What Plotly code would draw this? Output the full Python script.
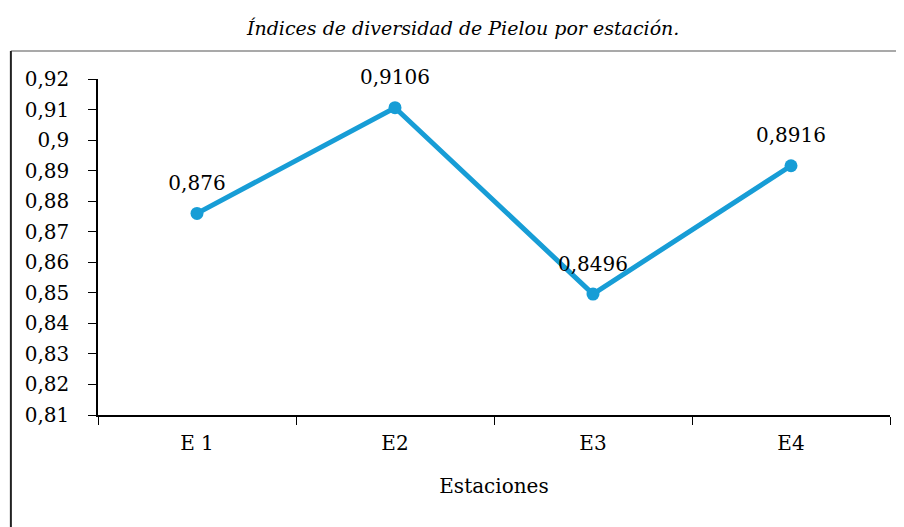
import plotly.graph_objects as go

STATIONS = ["E 1", "E2", "E3", "E4"]
PIELOU = [0.876, 0.9106, 0.8496, 0.8916]
LABELS = [str(v).replace(".", ",") for v in PIELOU]

FONT = "DejaVu Serif"
BLUE = "#179DD6"

fig = go.Figure()
fig.add_trace(go.Scatter(
    x=STATIONS, y=PIELOU, mode="lines+markers",
    line=dict(color=BLUE, width=5),
    marker=dict(color=BLUE, size=13),
    showlegend=False, hoverinfo="x+y",
))
# data labels: an invisible larger marker pushes the text up like Excel does
fig.add_trace(go.Scatter(
    x=STATIONS, y=PIELOU, mode="markers+text",
    marker=dict(color="rgba(0,0,0,0)", size=28),
    text=LABELS, textposition="top center",
    textfont=dict(family=FONT, size=20, color="black"),
    cliponaxis=False, showlegend=False, hoverinfo="skip",
))

# chart border (cropped in the original: only left and top edges visible)
fig.add_shape(type="line", xref="paper", yref="paper",
              x0=-0.110, x1=1.1, y0=1.083, y1=1.083,
              line=dict(color="#8c8c8c", width=1.5))
fig.add_shape(type="line", xref="paper", yref="paper",
              x0=-0.110, x1=-0.110, y0=1.083, y1=-0.40,
              line=dict(color="#222222", width=2))

fig.update_xaxes(
    type="category", range=[-0.5, 3.5], showline=True, linecolor="black",
    linewidth=1.5, ticks="outside", tickson="boundaries", ticklen=8,
    tickcolor="black", showgrid=False, ticklabelstandoff=9,
    tickfont=dict(family=FONT, size=20, color="black"),
    title=dict(text="Estaciones", font=dict(family=FONT, size=20, color="black"),
               standoff=25),
)
fig.update_yaxes(
    range=[0.81, 0.92], dtick=0.01, tick0=0.81,
    showline=True, linecolor="black", linewidth=1.5,
    ticks="outside", ticklen=8, tickcolor="black", showgrid=False,
    zeroline=False, ticklabelstandoff=15,
    tickfont=dict(family=FONT, size=20, color="black"),
)
fig.update_layout(
    width=896, height=519, separators=", ",
    plot_bgcolor="white", paper_bgcolor="white",
    margin=dict(l=90, r=14, t=71, b=112),
    title=dict(text="Índices de diversidad de Pielou por estación.",
               font=dict(family=FONT, size=19, color="black", style="italic"),
               x=0.508, xanchor="center", xref="container",
               y=0.9615, yanchor="middle", yref="container"),
)

fig.write_html("out.html")
